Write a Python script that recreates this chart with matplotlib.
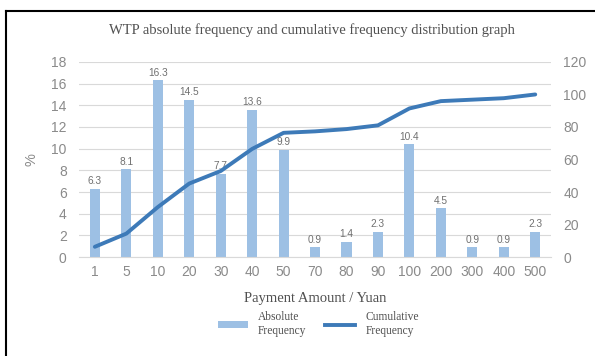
import numpy as np
import matplotlib
matplotlib.use("Agg")
import matplotlib.pyplot as plt
from matplotlib.lines import Line2D
from matplotlib.patches import Patch

categories = ["1", "5", "10", "20", "30", "40", "50", "70", "80", "90",
              "100", "200", "300", "400", "500"]
absolute = [6.3, 8.1, 16.3, 14.5, 7.7, 13.6, 9.9, 0.9, 1.4, 2.3,
            10.4, 4.5, 0.9, 0.9, 2.3]
cumulative = [6.3, 14.4, 30.7, 45.2, 52.9, 66.5, 76.4, 77.3, 78.7, 81.0,
              91.4, 95.9, 96.8, 97.7, 100.0]

bar_color = "#9dc0e4"
line_color = "#3d7ab8"
tick_color = "#8a8a8a"
serif = "Liberation Serif"
sans = "Liberation Sans"

fig = plt.figure(figsize=(5.95, 3.56), dpi=100)
ax = fig.add_axes([0.133, 0.278, 0.793, 0.548])
ax2 = ax.twinx()

x = np.arange(len(categories))
ax.bar(x, absolute, width=0.32, color=bar_color, zorder=2)
for xi, v in zip(x, absolute):
    ax.text(xi, v + 0.25, f"{v}", ha="center", va="bottom", fontsize=7.3,
            color="#707070", family=sans)

ax2.plot(x, cumulative, color=line_color, lw=2.8, solid_capstyle="round", zorder=3)

ax.set_xlim(-0.5, len(categories) - 0.5)
ax.set_ylim(0, 18)
ax.set_yticks(np.arange(0, 19, 2))
ax2.set_ylim(0, 120)
ax2.set_yticks(np.arange(0, 121, 20))
ax.set_xticks(x)
ax.set_xticklabels(categories)
ax.yaxis.grid(True, color="#d9d9d9", lw=0.8, zorder=0)
ax.set_axisbelow(True)

for a in (ax, ax2):
    for s in a.spines.values():
        s.set_visible(False)
    a.tick_params(length=0, labelsize=10, labelcolor=tick_color)
    for lab in a.get_xticklabels() + a.get_yticklabels():
        lab.set_family(sans)
ax.spines["bottom"].set_visible(True)
ax.spines["bottom"].set_color("#d9d9d9")
ax.tick_params(axis="y", pad=9)
ax2.tick_params(axis="y", pad=9)
ax.tick_params(axis="x", pad=6)

ax.set_ylabel("%", fontsize=10.5, color=tick_color, family=sans, labelpad=9)
ax.set_xlabel("Payment Amount / Yuan", fontsize=10.5, color="#505050",
              family=serif, labelpad=9)
fig.text(0.525, 0.915, "WTP absolute frequency and cumulative frequency distribution graph",
         ha="center", va="center", fontsize=10.5, color="#505050", family=serif)

handles = [Patch(facecolor=bar_color, edgecolor="none"),
           Line2D([0], [0], color=line_color, lw=2.8)]
fig.legend(handles, ["Absolute\nFrequency", "Cumulative\nFrequency"],
           loc="center", bbox_to_anchor=(0.535, 0.09), ncol=2, frameon=False,
           prop={"family": serif, "size": 8.3}, handlelength=2.6,
           handleheight=0.5, handletextpad=0.9, columnspacing=1.6,
           labelcolor="#505050")

# frame lines at the top and left of the picture
fig.add_artist(Line2D([0.010, 1.0], [0.969, 0.969], color="black", lw=1.5,
                      transform=fig.transFigure))
fig.add_artist(Line2D([0.010, 0.010], [0.0, 0.969], color="black", lw=1.5,
                      transform=fig.transFigure))

fig.savefig("out.png", dpi=100)
